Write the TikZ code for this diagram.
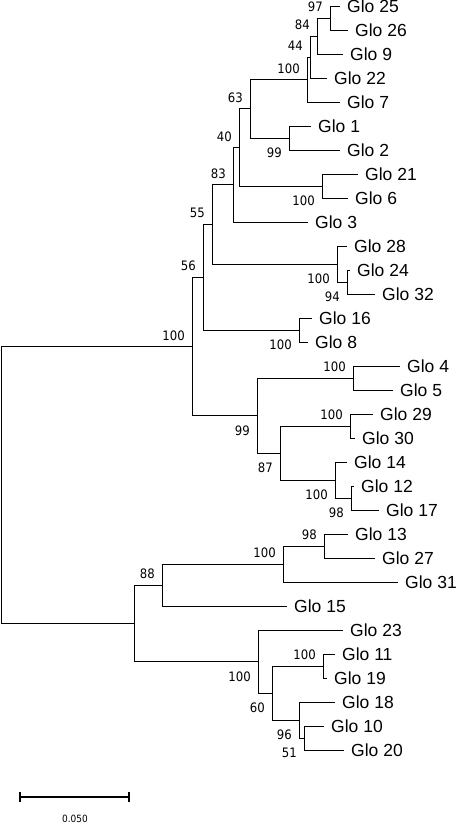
\documentclass[tikz,border=0pt]{standalone}
\usepackage{fontspec}
\setmainfont{Liberation Sans}
\newfontfamily\bootfont{DejaVu Sans Condensed}
\usetikzlibrary{positioning}

\begin{document}
\begin{tikzpicture}[
  x=1pt, y=-1pt,
  branch/.style={draw, line width=0.9pt},
  leaf/.style={anchor=west, inner xsep=7pt, inner ysep=0pt, font=\fontsize{17.5}{18}\selectfont},
  bsup/.style={anchor=east, inner sep=0pt, xshift=-7pt, yshift=11pt, font=\bootfont\fontsize{13}{14}\selectfont},
  bsdn/.style={anchor=east, inner sep=0pt, xshift=-7pt, yshift=-15pt, font=\bootfont\fontsize{13}{14}\selectfont},
  scalebar/.style={draw, line width=2pt}
]
\useasboundingbox (0,0) rectangle (457,826);

% leaves
\node[leaf] (g25) at (340,6) {Glo 25};
\node[leaf] (g26) at (348,30) {Glo 26};
\node[leaf] (g9) at (343,54) {Glo 9};
\node[leaf] (g22) at (327,78) {Glo 22};
\node[leaf] (g7) at (340,102) {Glo 7};
\node[leaf] (g1) at (311,126) {Glo 1};
\node[leaf] (g2) at (340,150) {Glo 2};
\node[leaf] (g21) at (358,174) {Glo 21};
\node[leaf] (g6) at (348,198) {Glo 6};
\node[leaf] (g3) at (308,222) {Glo 3};
\node[leaf] (g28) at (347,246) {Glo 28};
\node[leaf] (g24) at (350,270) {Glo 24};
\node[leaf] (g32) at (375,294) {Glo 32};
\node[leaf] (g16) at (312,318) {Glo 16};
\node[leaf] (g8) at (308,342) {Glo 8};
\node[leaf] (g4) at (400,366) {Glo 4};
\node[leaf] (g5) at (393,390) {Glo 5};
\node[leaf] (g29) at (373,414) {Glo 29};
\node[leaf] (g30) at (355,438) {Glo 30};
\node[leaf] (g14) at (347,462) {Glo 14};
\node[leaf] (g12) at (354,486) {Glo 12};
\node[leaf] (g17) at (379,510) {Glo 17};
\node[leaf] (g13) at (348,534) {Glo 13};
\node[leaf] (g27) at (375,558) {Glo 27};
\node[leaf] (g31) at (398,582) {Glo 31};
\node[leaf] (g15) at (287,606) {Glo 15};
\node[leaf] (g23) at (343,630) {Glo 23};
\node[leaf] (g11) at (335,654) {Glo 11};
\node[leaf] (g19) at (327,678) {Glo 19};
\node[leaf] (g18) at (335,702) {Glo 18};
\node[leaf] (g10) at (324,726) {Glo 10};
\node[leaf] (g20) at (344,750) {Glo 20};

% internal nodes
\coordinate (a1) at (330,18);
\coordinate (a2) at (317,36);
\coordinate (a3) at (310,57);
\coordinate (a4) at (307,79.5);
\coordinate (a5) at (289,138);
\coordinate (a6) at (250,108.75);
\coordinate (a7) at (322,186);
\coordinate (a8) at (239,147.4);
\coordinate (a9) at (233,184.7);
\coordinate (b1) at (347,282);
\coordinate (b2) at (337,264);
\coordinate (a10) at (212,224.35);
\coordinate (b3) at (299,330);
\coordinate (a11) at (203,277.2);
\coordinate (c1) at (353,378);
\coordinate (c2) at (350,426);
\coordinate (c3) at (351,498);
\coordinate (c4) at (335,480);
\coordinate (c5) at (280,453);
\coordinate (c6) at (257,415.5);
\coordinate (up) at (192,346.35);
\coordinate (d1) at (324,546);
\coordinate (d2) at (283,564);
\coordinate (d3) at (162,585);
\coordinate (e1) at (323,666);
\coordinate (e2) at (304,738);
\coordinate (e3) at (299,720);
\coordinate (e4) at (272,693);
\coordinate (e5) at (258,661.5);
\coordinate (lo) at (134,623.25);
\coordinate (root) at (1,484.8);

% branches
\foreach \p/\c in {a1/g25.west, a1/g26.west, a2/a1, a2/g9.west, a3/a2, a3/g22.west,
    a4/a3, a4/g7.west, a5/g1.west, a5/g2.west, a6/a4, a6/a5, a7/g21.west, a7/g6.west,
    a8/a6, a8/a7, a9/a8, a9/g3.west, b1/g24.west, b1/g32.west, b2/g28.west, b2/b1,
    a10/a9, a10/b2, b3/g16.west, b3/g8.west, a11/a10, a11/b3,
    c1/g4.west, c1/g5.west, c2/g29.west, c2/g30.west, c3/g12.west, c3/g17.west,
    c4/g14.west, c4/c3, c5/c2, c5/c4, c6/c1, c6/c5, up/a11, up/c6,
    d1/g13.west, d1/g27.west, d2/d1, d2/g31.west, d3/d2, d3/g15.west,
    e1/g11.west, e1/g19.west, e2/g10.west, e2/g20.west, e3/g18.west, e3/e2,
    e4/e1, e4/e3, e5/g23.west, e5/e4, lo/d3, lo/e5, root/up, root/lo}
  \draw[branch] (\p) |- (\c);

% bootstrap values
\node[bsup] (ba1) at (a1) {97};
\node[bsup] (ba2) at (a2) {84};
\node[bsup] (ba3) at (a3) {44};
\node[bsup] (ba4) at (a4) {100};
\node[bsdn] (ba5) at (a5) {99};
\node[bsup] (ba6) at (a6) {63};
\node[bsdn] (ba7) at (a7) {100};
\node[bsup] (ba8) at (a8) {40};
\node[bsup] (ba9) at (a9) {83};
\node[bsdn] (bb1) at (b1) {94};
\node[bsdn] (bb2) at (b2) {100};
\node[bsup] (ba10) at (a10) {55};
\node[bsdn] (bb3) at (b3) {100};
\node[bsup] (ba11) at (a11) {56};
\node[bsup] (bc1) at (c1) {100};
\node[bsup] (bc2) at (c2) {100};
\node[bsdn] (bc3) at (c3) {98};
\node[bsdn] (bc4) at (c4) {100};
\node[bsdn] (bc5) at (c5) {87};
\node[bsdn] (bc6) at (c6) {99};
\node[bsup] (bup) at (up) {100};
\node[bsup] (bd1) at (d1) {98};
\node[bsup] (bd2) at (d2) {100};
\node[bsup] (bd3) at (d3) {88};
\node[bsup] (be1) at (e1) {100};
\node[bsdn] (be2) at (e2) {51};
\node[bsdn] (be3) at (e3) {96};
\node[bsdn] (be4) at (e4) {60};
\node[bsdn] (be5) at (e5) {100};

% scale bar
\coordinate (sbl) at (20,797);
\coordinate (sbr) at (129,797);
\draw[scalebar] (sbl) -- (sbr);
\draw[scalebar] ([yshift=5pt]sbl) -- ([yshift=-5pt]sbl);
\draw[scalebar] ([yshift=5pt]sbr) -- ([yshift=-5pt]sbr);
\node[font=\bootfont\fontsize{10}{11}\selectfont, inner sep=0pt] (sblabel) at (75,819) {0.050};
\end{tikzpicture}
\end{document}
